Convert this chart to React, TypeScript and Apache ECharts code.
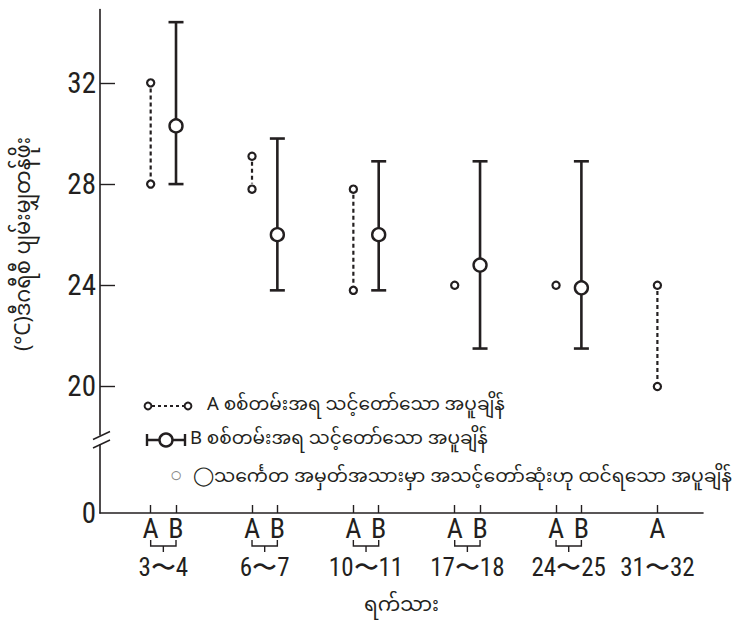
import React, { useEffect, useRef } from "react";
import * as echarts from "echarts";

// ---- data ----
const groups = ["3〜4", "6〜7", "10〜11", "17〜18", "24〜25", "31〜32"];
const aLow = [28, 27.8, 23.8, 24, 24, 20];
const aHigh = [32, 29.1, 27.8, 24, 24, 24];
const bLow: (number | null)[] = [28, 23.8, 23.8, 21.5, 21.5, null];
const bMean: (number | null)[] = [30.3, 26.0, 26.0, 24.8, 23.9, null];
const bHigh: (number | null)[] = [34.4, 29.8, 28.9, 28.9, 28.9, null];
const yTicks = [20, 24, 28, 32];
const yBaseLabel = "0";
const yMin = 15;
const yMax = 34.9;
const seriesLetters = ["A", "B"];
const xTitle = "ရက်သား";
const yTitle = "(°C)ဒီဂရီစီ ပျမ်းမျှတန်ဖိုး";
const legendA = "A စစ်တမ်းအရ သင့်တော်သော အပူချိန်";
const legendB = "B စစ်တမ်းအရ သင့်တော်သော အပူချိန်";
const legendC = "◯သင်္ကေတ အမှတ်အသားမှာ အသင့်တော်ဆုံးဟု ထင်ရသော အပူချိန်";

const INK = "#231f20";
const NUM_FONT = "'Liberation Sans Narrow', 'Roboto Condensed', 'DejaVu Sans Condensed', 'Liberation Sans', Arial, sans-serif";
const MY_FONT = "'Noto Sans Myanmar', Padauk, 'Myanmar Text', 'Noto Sans', sans-serif";

const ax = (i: number) => i * 4 + 2;
const bx = (i: number) => i * 4 + 3;

export default function App() {
  const ref = useRef<HTMLDivElement>(null);
  useEffect(() => {
    if (!ref.current) return;
    const chart = echarts.init(ref.current, null, { renderer: "svg" });

    const abPositions: number[] = [];
    groups.forEach((_, i) => {
      abPositions.push(ax(i));
      if (bMean[i] != null) abPositions.push(bx(i));
    });
    const groupCenters = groups.map((_, i) => (bMean[i] != null ? (ax(i) + bx(i)) / 2 : ax(i)));

    const aData = groups.map((_, i) => [ax(i), aLow[i], aHigh[i]]);
    const bData = groups
      .map((_, i) => (bMean[i] != null ? [bx(i), bLow[i], bMean[i], bHigh[i]] : null))
      .filter((d) => d != null);
    const bracketData = groups
      .map((_, i) => (bMean[i] != null ? [ax(i), bx(i)] : null))
      .filter((d) => d != null);

    const option: any = {
      animation: false,
      backgroundColor: "#ffffff",
      grid: { left: 100, right: 36, top: 9.5, bottom: 117, containLabel: false },
      xAxis: [
        {
          type: "value",
          min: 0,
          max: 23.8,
          position: "bottom",
          axisLine: { show: true, lineStyle: { color: INK, width: 1.6 } },
          axisTick: { show: true, inside: true, length: 8, customValues: abPositions, lineStyle: { color: INK, width: 1.4 } },
          axisLabel: {
            show: true,
            customValues: abPositions,
            margin: 1,
            color: INK,
            fontSize: 28,
            fontFamily: NUM_FONT,
            formatter: (v: number) => ((Math.round(v) - 2) % 4 === 0 ? seriesLetters[0] : seriesLetters[1]),
          },
          splitLine: { show: false },
          name: xTitle,
          nameLocation: "middle",
          nameGap: 83,
          nameTextStyle: { color: INK, fontSize: 20, fontFamily: MY_FONT },
        },
        {
          type: "value",
          min: 0,
          max: 23.8,
          position: "bottom",
          offset: 38,
          axisLine: { show: false },
          axisTick: { show: false },
          splitLine: { show: false },
          axisLabel: {
            show: true,
            customValues: groupCenters,
            margin: 4,
            color: INK,
            fontSize: 25,
            fontFamily: NUM_FONT,
            formatter: (v: number) => {
              const idx = groupCenters.findIndex((c) => Math.abs(c - v) < 0.01);
              return idx >= 0 ? groups[idx] : "";
            },
          },
        },
      ],
      yAxis: {
        type: "value",
        min: yMin,
        max: yMax,
        axisLine: { show: true, lineStyle: { color: INK, width: 1.6 } },
        axisTick: { show: true, inside: true, length: 15, customValues: yTicks, lineStyle: { color: INK, width: 1.4 } },
        axisLabel: {
          show: true,
          customValues: [yMin, ...yTicks],
          margin: 4,
          color: INK,
          fontSize: 29,
          fontFamily: NUM_FONT,
          formatter: (v: number) => (v === yMin ? yBaseLabel : String(v)),
        },
        splitLine: { show: false },
      },
      series: [
        {
          type: "custom",
          name: "A",
          xAxisIndex: 0,
          yAxisIndex: 0,
          clip: false,
          encode: { x: 0, y: [1, 2] },
          data: aData,
          renderItem: (params: any, api: any) => {
            const x = api.value(0);
            const lo = api.value(1);
            const hi = api.value(2);
            const pLo = api.coord([x, lo]);
            const pHi = api.coord([x, hi]);
            const r = 3.6;
            const children: any[] = [];
            if (hi !== lo) {
              children.push({
                type: "line",
                shape: { x1: pHi[0], y1: pHi[1] + r + 2, x2: pLo[0], y2: pLo[1] - r - 2 },
                style: { stroke: INK, lineWidth: 2.2, lineDash: [4, 3] },
              });
            }
            children.push({ type: "circle", shape: { cx: pHi[0], cy: pHi[1], r }, style: { fill: "#fff", stroke: INK, lineWidth: 2.2 } });
            if (hi !== lo) {
              children.push({ type: "circle", shape: { cx: pLo[0], cy: pLo[1], r }, style: { fill: "#fff", stroke: INK, lineWidth: 2.2 } });
            }
            return { type: "group", children };
          },
        },
        {
          type: "custom",
          name: "B",
          xAxisIndex: 0,
          yAxisIndex: 0,
          clip: false,
          encode: { x: 0, y: [1, 3] },
          data: bData,
          renderItem: (params: any, api: any) => {
            const x = api.value(0);
            const pLo = api.coord([x, api.value(1)]);
            const pMean = api.coord([x, api.value(2)]);
            const pHi = api.coord([x, api.value(3)]);
            const hw = 7.5;
            const st = { stroke: INK, lineWidth: 2.6 };
            return {
              type: "group",
              children: [
                { type: "line", shape: { x1: pHi[0], y1: pHi[1], x2: pLo[0], y2: pLo[1] }, style: st },
                { type: "line", shape: { x1: pHi[0] - hw, y1: pHi[1], x2: pHi[0] + hw, y2: pHi[1] }, style: st },
                { type: "line", shape: { x1: pLo[0] - hw, y1: pLo[1], x2: pLo[0] + hw, y2: pLo[1] }, style: st },
                { type: "circle", shape: { cx: pMean[0], cy: pMean[1], r: 6.5 }, style: { fill: "#fff", stroke: INK, lineWidth: 2.4 } },
              ],
            };
          },
        },
        {
          type: "custom",
          name: "bracket",
          xAxisIndex: 0,
          yAxisIndex: 0,
          clip: false,
          silent: true,
          encode: { x: [0, 1] },
          data: bracketData,
          renderItem: (params: any, api: any) => {
            const p1 = api.coord([api.value(0), yMin]);
            const p2 = api.coord([api.value(1), yMin]);
            const y0 = p1[1];
            const mid = (p1[0] + p2[0]) / 2;
            const st = { stroke: INK, lineWidth: 1.4, fill: null };
            return {
              type: "group",
              children: [
                {
                  type: "polyline",
                  shape: { points: [[p1[0], y0 + 27], [p1[0], y0 + 33], [p2[0], y0 + 33], [p2[0], y0 + 27]] },
                  style: st,
                },
                { type: "line", shape: { x1: mid, y1: y0 + 33, x2: mid, y2: y0 + 39 }, style: st },
              ],
            };
          },
        },
      ],
      graphic: [
        // y-axis title
        {
          type: "text",
          x: 25,
          y: 244,
          rotation: Math.PI / 2,
          style: { text: yTitle, fill: INK, fontSize: 21, fontFamily: MY_FONT, align: "center", verticalAlign: "middle" },
        },
        // axis break
        { type: "rect", z: 50, shape: { x: 96, y: 435.5, width: 8, height: 8.5 }, style: { fill: "#fff" } },
        { type: "line", z: 51, shape: { x1: 93, y1: 439.5, x2: 110, y2: 431.5 }, style: { stroke: INK, lineWidth: 1.4 } },
        { type: "line", z: 51, shape: { x1: 93, y1: 448, x2: 110, y2: 440 }, style: { stroke: INK, lineWidth: 1.4 } },
        // legend row A
        { type: "line", shape: { x1: 152, y1: 406, x2: 184, y2: 406 }, style: { stroke: INK, lineWidth: 2, lineDash: [3, 3] } },
        { type: "circle", shape: { cx: 148, cy: 406, r: 3.4 }, style: { fill: "#fff", stroke: INK, lineWidth: 2 } },
        { type: "circle", shape: { cx: 188, cy: 406, r: 3.4 }, style: { fill: "#fff", stroke: INK, lineWidth: 2 } },
        { type: "text", x: 207, y: 406, style: { text: legendA, fill: INK, fontSize: 18.5, lineHeight: 20, fontFamily: MY_FONT, verticalAlign: "middle" } },
        // legend row B
        { type: "line", shape: { x1: 147, y1: 440, x2: 185, y2: 440 }, style: { stroke: INK, lineWidth: 2.4 } },
        { type: "line", shape: { x1: 147, y1: 434, x2: 147, y2: 446 }, style: { stroke: INK, lineWidth: 2.4 } },
        { type: "line", shape: { x1: 185, y1: 434, x2: 185, y2: 446 }, style: { stroke: INK, lineWidth: 2.4 } },
        { type: "circle", shape: { cx: 166, cy: 440, r: 6.5 }, style: { fill: "#fff", stroke: INK, lineWidth: 2.4 } },
        { type: "text", x: 190, y: 440, style: { text: legendB, fill: INK, fontSize: 18.5, lineHeight: 20, fontFamily: MY_FONT, verticalAlign: "middle" } },
        // legend row C
        { type: "text", x: 176, y: 477, style: { text: "○", fill: "#8a8a8a", fontSize: 21, fontFamily: MY_FONT, align: "center", verticalAlign: "middle" } },
        { type: "text", x: 193, y: 477, style: { text: legendC, fill: INK, fontSize: 18.8, lineHeight: 20, fontFamily: MY_FONT, verticalAlign: "middle" } },
      ],
    };

    chart.setOption(option);
    return () => chart.dispose();
  }, []);

  return (
    <div
      ref={ref}
      style={{ position: "fixed", left: 0, top: 0, width: 739, height: 630, background: "#fff" }}
    />
  );
}
